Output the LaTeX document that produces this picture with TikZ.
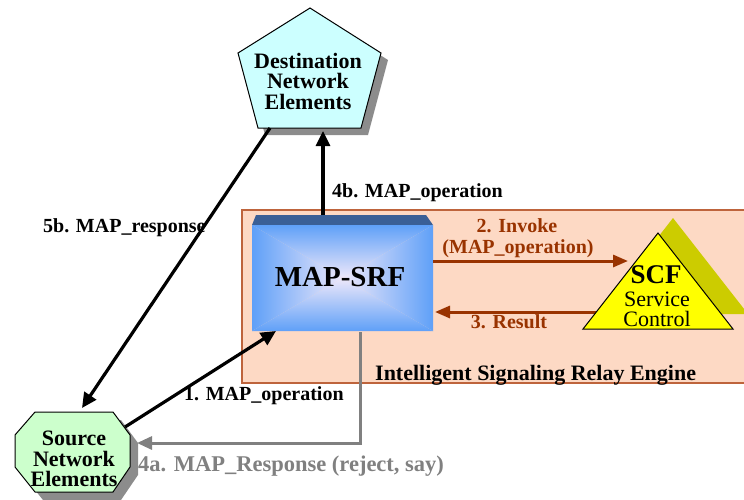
\documentclass[tikz,border=0pt]{standalone}
\usepackage{fontspec}
\setmainfont{Liberation Serif}
\usetikzlibrary{arrows.meta}
\definecolor{relaybg}{RGB}{253,217,196}
\definecolor{relayline}{RGB}{190,100,60}
\definecolor{brownline}{RGB}{153,51,0}
\definecolor{grayline}{RGB}{128,128,128}
\definecolor{shadowgray}{RGB}{140,140,140}
\definecolor{destfill}{RGB}{204,255,255}
\definecolor{srcfill}{RGB}{204,255,204}
\definecolor{scffill}{RGB}{255,255,0}
\definecolor{scfshadow}{RGB}{204,204,0}
\definecolor{srftop}{RGB}{58,95,150}
\definecolor{srfblue}{RGB}{95,160,248}
\definecolor{srfmid}{RGB}{150,195,250}
\definecolor{srflight}{RGB}{238,232,250}
\begin{document}
\begin{tikzpicture}[x=1pt,y=-1pt,
  lbl/.style={font=\fontsize{20}{22}\selectfont\bfseries, anchor=base west, inner sep=0pt},
  elem/.style={font=\fontsize{22}{20.5}\selectfont\bfseries, align=center, inner sep=0pt},
  blackarr/.style={line width=3.2pt, -{Triangle[length=15pt,width=14pt]}},
  brownarr/.style={line width=3pt, brownline, -{Triangle[length=15pt,width=12pt]}},
  grayarr/.style={line width=3pt, grayline, -{Triangle[length=15pt,width=13pt]}}]
\useasboundingbox (0,0) rectangle (744,499);
\clip (0,0) rectangle (744,499);
% relay engine
\draw[line width=1.5pt, draw=relayline, fill=relaybg] (242,210) rectangle (760,383);
\node[font=\fontsize{22}{24}\selectfont\bfseries, anchor=base west, inner sep=0pt] (engine) at (375,380) {Intelligent Signaling Relay Engine};
% MAP-SRF box
\fill[srftop] (252,225) -- (256,215) -- (426,215) -- (433,225) -- cycle;
\shade[top color=srfblue, middle color=srfmid, bottom color=srflight] (252,225) -- (433,225) -- (342.5,278) -- cycle;
\shade[top color=srflight, middle color=srfmid, bottom color=srfblue] (252,331) -- (433,331) -- (342.5,278) -- cycle;
\shade[left color=srfblue, middle color=srfmid, right color=srflight] (252,225) -- (252,331) -- (342.5,278) -- cycle;
\shade[left color=srflight, middle color=srfmid, right color=srfblue] (433,225) -- (433,331) -- (342.5,278) -- cycle;
\node[font=\fontsize{29}{30}\selectfont\bfseries, anchor=base, inner sep=0pt] (srf) at (340,286) {MAP-SRF};
% destination
\fill[shadowgray] (317,15) -- (388,60) -- (368,135) -- (265,135) -- (245,60) -- cycle;
\draw[line width=1pt, fill=destfill] (310,8) -- (381,53) -- (361,128) -- (258,128) -- (238,53) -- cycle;
\node[elem] (dest) at (308,81) {Destination\\Network\\Elements};
% source
\fill[shadowgray] (43,420) -- (121,420) -- (138,443) -- (138,475) -- (121,500) -- (43,500) -- (23,475) -- (23,443) -- cycle;
\draw[line width=1pt, fill=srcfill] (35,412) -- (113,412) -- (130,435) -- (130,467) -- (113,492) -- (35,492) -- (15,467) -- (15,435) -- cycle;
\node[elem] (src) at (74,459) {Source\\Network\\Elements};
% end points
\coordinate (srfN) at (323,215);
\coordinate (srfSW) at (276,331);
\coordinate (srfS) at (360,332);
\coordinate (srfE2) at (433,261);
\coordinate (srfE3) at (435,312);
\coordinate (destS) at (323,131);
\coordinate (destSW) at (270,128);
\coordinate (srcN) at (82,408);
\coordinate (srcNE) at (125,427);
\coordinate (srcE) at (137,443);
\coordinate (scfW2) at (628,261);
\coordinate (scfW3) at (597,312);
% messages
\draw[blackarr] (srfN) -- (destS);
\draw[blackarr] (destSW) -- (srcN);
\draw[blackarr] (srcNE) -- (srfSW);
\draw[brownarr] (srfE2) -- (scfW2);
\draw[brownarr] (scfW3) -- (srfE3);
\draw[grayarr] (srfS) |- (srcE);
% SCF
\fill[scfshadow] (673,218) -- (748,314) -- (598,314) -- cycle;
\draw[line width=1pt, fill=scffill] (658,233) -- (733,329) -- (583,329) -- cycle;
\node[font=\fontsize{27}{28}\selectfont\bfseries, anchor=base, inner sep=0pt] (scf) at (656,283) {SCF};
\node[font=\fontsize{22}{20}\selectfont, anchor=base, inner sep=0pt] (scfsvc) at (657,306) {Service};
\node[font=\fontsize{22}{20}\selectfont, anchor=base, inner sep=0pt] (scfctl) at (657,326) {Control};
% labels
\node[lbl] (l4b) at (332,197) {4b. MAP\_operation};
\node[lbl] (l5b) at (43,232) {5b. MAP\_response};
\node[lbl] (l1) at (184,400) {1. MAP\_operation};
\node[lbl, grayline, font=\fontsize{22.5}{24}\selectfont\bfseries] (l4a) at (138,471) {4a. MAP\_Response (reject, say)};
\node[lbl, brownline, anchor=base] (l2a) at (517,232) {2. Invoke};
\node[lbl, brownline, anchor=base] (l2b) at (518,253) {(MAP\_operation)};
\node[lbl, brownline, anchor=base] (l3) at (509,328) {3. Result};
\end{tikzpicture}
\end{document}
